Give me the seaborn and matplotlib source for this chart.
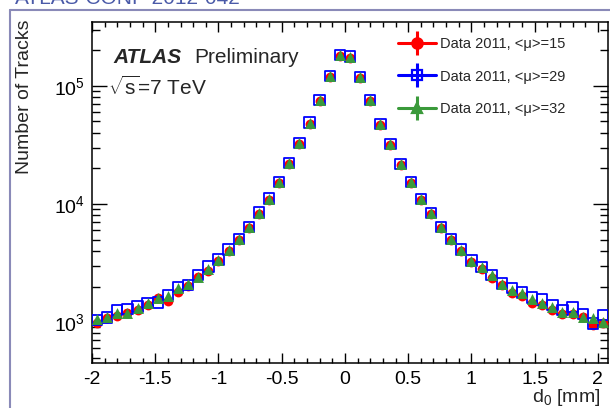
import matplotlib
matplotlib.use("Agg")
import matplotlib.pyplot as plt
import numpy as np
import pandas as pd
import seaborn as sns
from matplotlib.lines import Line2D
from matplotlib.ticker import FuncFormatter, LogLocator, MultipleLocator, NullFormatter

# Data: d0 bin centres [mm] and track counts
d0 = [-1.96, -1.88, -1.80, -1.72, -1.64, -1.56, -1.48, -1.40, -1.32, -1.24,
      -1.16, -1.08, -1.00, -0.92, -0.84, -0.76, -0.68, -0.60, -0.52, -0.44,
      -0.36, -0.28, -0.20, -0.12, -0.04, 0.04, 0.12, 0.20, 0.28, 0.36,
      0.44, 0.52, 0.60, 0.68, 0.76, 0.84, 0.92, 1.00, 1.08, 1.16,
      1.24, 1.32, 1.40, 1.48, 1.56, 1.64, 1.72, 1.80, 1.88, 1.96, 2.04]

mu15 = [976, 1075, 1125, 1190, 1265, 1395, 1588, 1515, 1785, 2020,
        2400, 2710, 3280, 3990, 4930, 6230, 8280, 10900, 15050, 21700,
        32100, 48000, 74600, 119200, 178500, 173500, 116200, 74600, 46700, 31600,
        21400, 15050, 10750, 8180, 6220, 4930, 3990, 3230, 2826, 2343,
        2060, 1752, 1659, 1439, 1394, 1265, 1168, 1168, 1095, 944, 975]

mu29 = [1045, 1096, 1265, 1290, 1350, 1455, 1460, 1690, 1970, 2060,
        2500, 2950, 3380, 4110, 5060, 6400, 8500, 11150, 15400, 22200,
        32800, 49100, 76300, 122000, 182500, 177500, 118800, 76300, 47800, 32300,
        21900, 15400, 11000, 8380, 6380, 5060, 4110, 3330, 2920, 2500,
        2127, 1932, 1782, 1618, 1557, 1396, 1263, 1349, 1168, 975, 1147]

mu32 = [1055, 1096, 1200, 1200, 1307, 1440, 1588, 1660, 1930, 2100,
        2420, 2800, 3350, 4070, 5020, 6350, 8440, 11100, 15350, 22100,
        32700, 48900, 76100, 121600, 182000, 177000, 118500, 76100, 47600, 32200,
        21800, 15350, 10970, 8340, 6350, 5030, 4070, 3300, 2920, 2500,
        2100, 1870, 1770, 1556, 1440, 1333, 1223, 1223, 1109, 1075, 1007]

labels = ["Data 2011, <\u03bc>=15", "Data 2011, <\u03bc>=29", "Data 2011, <\u03bc>=32"]

df = pd.DataFrame({"d0": d0, "mu15": mu15, "mu29": mu29, "mu32": mu32})

# Style
sns.set_theme(style="ticks")
plt.rcParams["font.family"] = ["Liberation Sans", "DejaVu Sans"]
plt.rcParams["mathtext.fontset"] = "custom"
plt.rcParams["mathtext.rm"] = "Liberation Sans"
plt.rcParams["mathtext.it"] = "Liberation Sans:italic"

fig = plt.figure(figsize=(6.1, 4.08), dpi=100)
ax = fig.add_axes([92 / 610, 1 - 363 / 408, 516 / 610, 341 / 408])

red, blue, green = "#ff0000", "#0000ff", "#3a9a3a"

sns.scatterplot(data=df, x="d0", y="mu15", ax=ax, color=red, marker="o",
                s=50, linewidth=0, zorder=3)
sns.scatterplot(data=df, x="d0", y="mu29", ax=ax, marker="s", s=56,
                facecolor="none", edgecolor=blue, linewidth=1.3, zorder=4)
sns.scatterplot(data=df, x="d0", y="mu32", ax=ax, color=green, marker="^",
                s=62, linewidth=0, zorder=5)

ax.set_yscale("log")
ax.set_xlim(-2.0, 2.08)
ax.set_ylim(450, 3.48e5)

# ROOT-like ticks on all sides
ax.xaxis.set_major_locator(MultipleLocator(0.5))
ax.xaxis.set_minor_locator(MultipleLocator(0.1))
ax.xaxis.set_major_formatter(FuncFormatter(lambda v, p: f"{v:g}"))
ax.yaxis.set_major_locator(LogLocator(base=10))
ax.yaxis.set_minor_locator(LogLocator(base=10, subs=np.arange(2, 10)))
ax.yaxis.set_minor_formatter(NullFormatter())
ax.yaxis.set_major_formatter(FuncFormatter(lambda v, p: f"$10^{{{int(round(np.log10(v)))}}}$"))

ax.tick_params(axis="both", which="both", direction="in", top=True, right=True,
               colors="black", labelsize=14)
ax.tick_params(axis="x", which="major", length=7.5, width=1, pad=6)
ax.tick_params(axis="x", which="minor", length=3.8, width=1)
ax.tick_params(axis="y", which="major", length=11, width=1, pad=5)
ax.tick_params(axis="y", which="minor", length=5.8, width=1)
for sp in ax.spines.values():
    sp.set_linewidth(1.1)
    sp.set_color("black")

ax.set_xlabel("")
ax.set_ylabel("")
fig.text(600 / 610, 1 - 397 / 408, "d$_0$ [mm]", ha="right", va="center", fontsize=14)
fig.text(25 / 610, 1 - 20 / 408, "Number of Tracks", rotation=90, ha="center",
         va="top", fontsize=14)

# ATLAS label
ax.text(0.041, 0.897, "ATLAS", transform=ax.transAxes, fontsize=15,
        fontweight="bold", fontstyle="italic", va="center", ha="left")
ax.text(0.198, 0.897, "Preliminary", transform=ax.transAxes, fontsize=15,
        va="center", ha="left")
ax.text(0.031, 0.809, r"$\sqrt{\mathrm{s}}$=7 TeV", transform=ax.transAxes, fontsize=15,
        va="center", ha="left")

# Legend: marker with horizontal and vertical error-bar lines
handles = []
for c, m, fc in [(red, "o", red), (blue, "s", "none"), (green, "^", green)]:
    hline = Line2D([], [], color=c, lw=2.2, marker=m, mfc=fc, mec=c, mew=1.6, ms=7.5)
    vline = Line2D([], [], color=c, ls="none", marker="|", ms=17, mew=2.2)
    handles.append((hline, vline))
leg = ax.legend(handles, labels, loc="upper left", bbox_to_anchor=(0.593, 0.955),
                bbox_transform=ax.transAxes, frameon=False, fontsize=10.5,
                handlelength=2.6, handletextpad=0.3, labelspacing=1.25,
                borderpad=0, borderaxespad=0)

# Slide frame and clipped header of the source page
fig.add_artist(Line2D([10 / 610, 10 / 610], [0, 1 - 10 / 408], color="#8a8ab8",
                      lw=1.5, transform=fig.transFigure))
fig.add_artist(Line2D([10 / 610, 1], [1 - 10 / 408, 1 - 10 / 408], color="#8a8ab8",
                      lw=1.5, transform=fig.transFigure))
fig.text(15 / 610, 1 - 4 / 408, "ATLAS-CONF-2012-042", color="#4a5aa8",
         fontsize=15, ha="left", va="baseline")

plt.savefig("out.png", dpi=100)
